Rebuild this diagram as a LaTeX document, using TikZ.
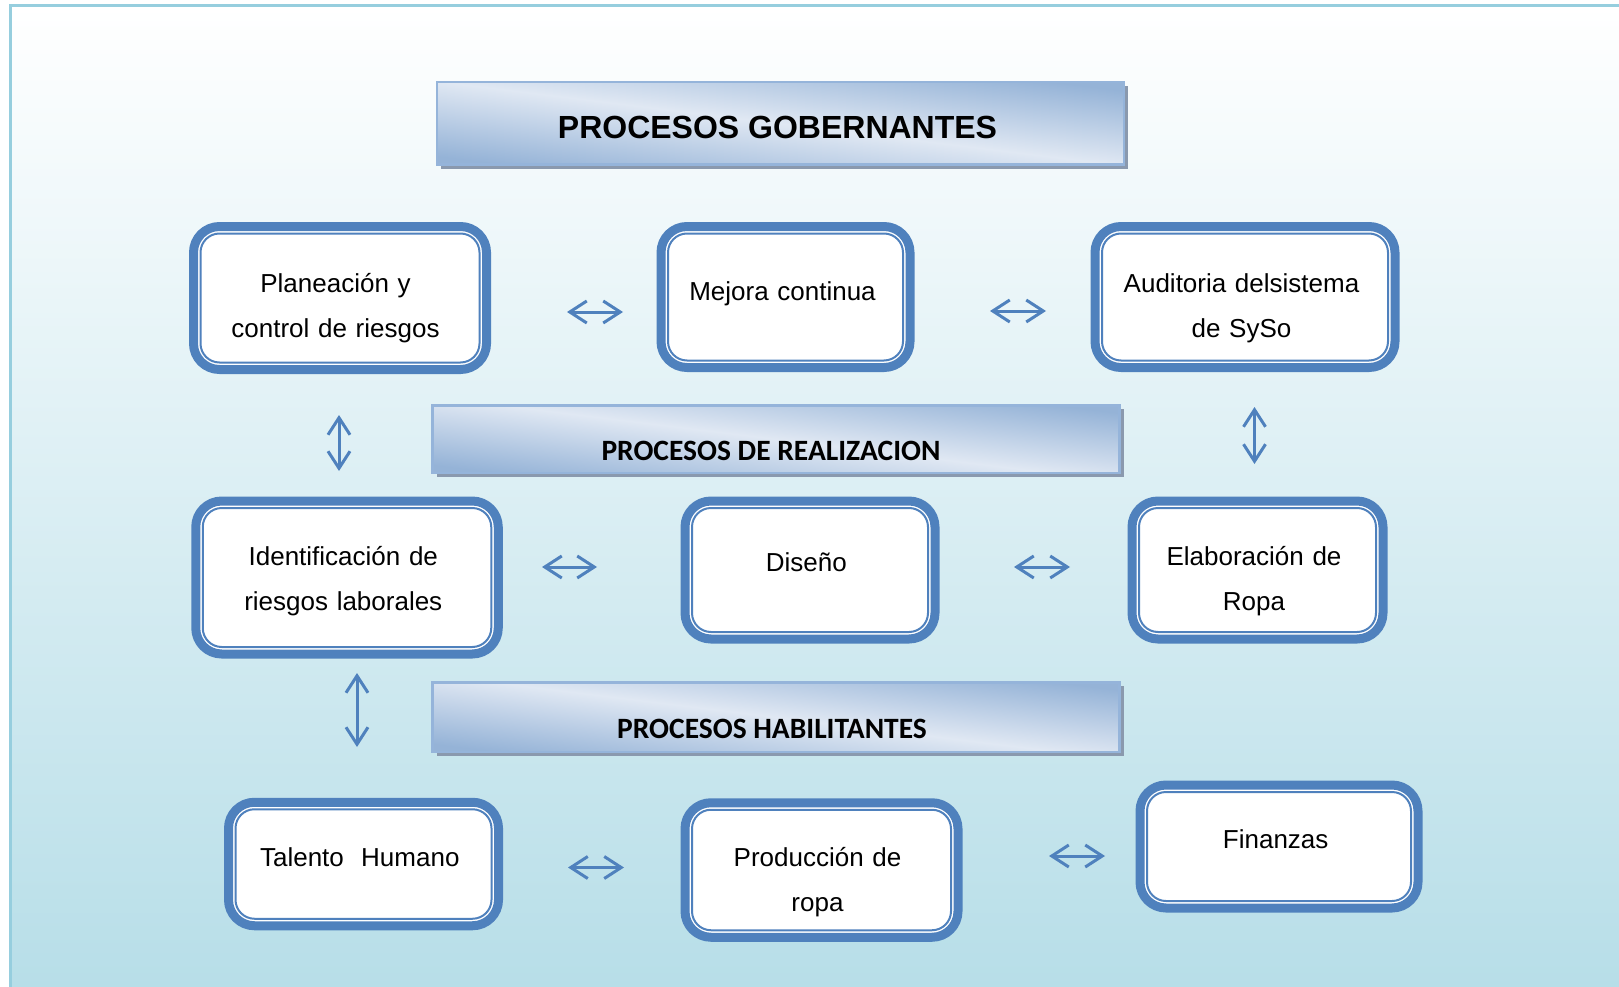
\documentclass[tikz,border=0pt]{standalone}
\usepackage{fontspec}
\setmainfont{Liberation Sans}
\newfontfamily\calibrifont{Carlito}
\usetikzlibrary{arrows.meta,shadows}

\definecolor{boxblue}{RGB}{79,129,189}
\definecolor{bgblue}{RGB}{183,222,232}
\definecolor{framecol}{RGB}{150,206,222}
\definecolor{bandark}{RGB}{149,179,215}
\definecolor{banlight}{RGB}{224,232,243}
\definecolor{banborder}{RGB}{149,180,218}
\definecolor{shadowgray}{RGB}{138,153,174}

\begin{document}
\begin{tikzpicture}[x=1pt, y=-1pt,
    procbox/.style={draw=boxblue, line width=9pt, rounded corners=26pt, fill=white, outer sep=0pt, inner sep=0pt},
    inring/.style={draw=boxblue, line width=2pt, rounded corners=19pt},
    boxtext/.style={text width=250pt, align=center, inner sep=0pt, anchor=base, font=\fontsize{26}{45.5}\selectfont},
    banner/.style={draw=banborder, line width=2.5pt, top color=bandark, bottom color=bandark, middle color=banlight, shading angle=-7,
        drop shadow={shadow xshift=4pt, shadow yshift=-4pt, fill=shadowgray, opacity=1}, inner sep=0pt, minimum width=687pt},
    dblarrow/.style={{Straight Barb[length=17pt,width=22pt]}-{Straight Barb[length=17pt,width=22pt]}, line width=3pt, draw=boxblue}
]

% Page and background
\useasboundingbox (0,0) rectangle (1619,987);
\shade[top color=white, bottom color=bgblue] (10.5,5.5) rectangle (1619,987);
\draw[framecol, line width=3pt] (10.5,987) -- (10.5,5.5) -- (1619,5.5);

% Banners
\node[banner, minimum height=82.5pt, text height=30pt, text depth=0pt, font=\fontsize{32}{38}\selectfont\bfseries] (gob) at (780.5,123.5) {PROCESOS GOBERNANTES\kern6pt};
\node[banner, minimum height=67.5pt, text height=43pt, text depth=0pt, font=\calibrifont\fontsize{29.5}{35}\selectfont\bfseries] (real) at (776,439) {PROCESOS DE REALIZACION\kern10pt};
\node[banner, minimum height=69.5pt, text height=42pt, text depth=0pt, font=\calibrifont\fontsize{29.5}{35}\selectfont\bfseries] (hab) at (776,717) {PROCESOS HABILITANTES\kern8pt};

% Top row: governing processes
\node[procbox, minimum width=293pt, minimum height=143pt] (plan) at (340,298) {};
\node[procbox, minimum width=249pt, minimum height=141pt] (mejora) at (785.5,297) {};
\node[procbox, minimum width=300pt, minimum height=141pt] (audit) at (1245,297) {};

% Middle row: realization processes
\node[procbox, minimum width=302.5pt, minimum height=153pt] (ident) at (347,577.5) {};
\node[procbox, minimum width=250pt, minimum height=138pt] (diseno) at (810,570) {};
\node[procbox, minimum width=251pt, minimum height=138pt] (elab) at (1257.5,570) {};

% Bottom row: enabling processes
\node[procbox, minimum width=270pt, minimum height=123.5pt] (talento) at (363.5,864) {};
\node[procbox, minimum width=273pt, minimum height=134.5pt] (prod) at (821.5,870) {};
\node[procbox, minimum width=278pt, minimum height=123pt] (finanzas) at (1279,846.5) {};

% Inner rings
\foreach \b in {plan,mejora,audit,ident,diseno,elab,talento,prod,finanzas}
  \draw[inring] ([xshift=7pt,yshift=-7pt]\b.north west) rectangle ([xshift=-7pt,yshift=7pt]\b.south east);

% Box texts
\node[boxtext] (plantxt) at (335.5,292) {Planeación y\\control de riesgos};
\node[boxtext] (mejoratxt) at (782.5,300) {Mejora continua};
\node[boxtext] (audittxt) at (1241.5,292) {Auditoria delsistema\\de SySo};
\node[boxtext] (identtxt) at (343.3,565) {Identificación de\\riesgos laborales};
\node[boxtext] (disenotxt) at (806.4,571) {Diseño};
\node[boxtext] (elabtxt) at (1254,565) {Elaboración de\\Ropa};
\node[boxtext] (talentotxt) at (359.8,866) {Talento\ \ Humano};
\node[boxtext] (prodtxt) at (817.5,866) {Producción de\\ropa};
\node[boxtext] (finanzastxt) at (1275.7,848) {Finanzas};

% Arrow ends
\coordinate (h1l) at (567,312);  \coordinate (h1r) at (623,312);
\coordinate (h2l) at (990,311);  \coordinate (h2r) at (1046,311);
\coordinate (v1t) at (339,415);  \coordinate (v1b) at (339,471);
\coordinate (v2t) at (1254.5,407); \coordinate (v2b) at (1254.5,464);
\coordinate (h3l) at (542,567);  \coordinate (h3r) at (597,567);
\coordinate (h4l) at (1014,567); \coordinate (h4r) at (1070,567);
\coordinate (v3t) at (357,673);  \coordinate (v3b) at (357,747);
\coordinate (h5l) at (568,867.5); \coordinate (h5r) at (624,867.5);
\coordinate (h6l) at (1049,856); \coordinate (h6r) at (1105,856);

% Double arrows
\draw[dblarrow] (h1l) -- (h1r);
\draw[dblarrow] (h2l) -- (h2r);
\draw[dblarrow] (v1t) -- (v1b);
\draw[dblarrow] (v2t) -- (v2b);
\draw[dblarrow] (h3l) -- (h3r);
\draw[dblarrow] (h4l) -- (h4r);
\draw[dblarrow] (v3t) -- (v3b);
\draw[dblarrow] (h5l) -- (h5r);
\draw[dblarrow] (h6l) -- (h6r);

\end{tikzpicture}
\end{document}
